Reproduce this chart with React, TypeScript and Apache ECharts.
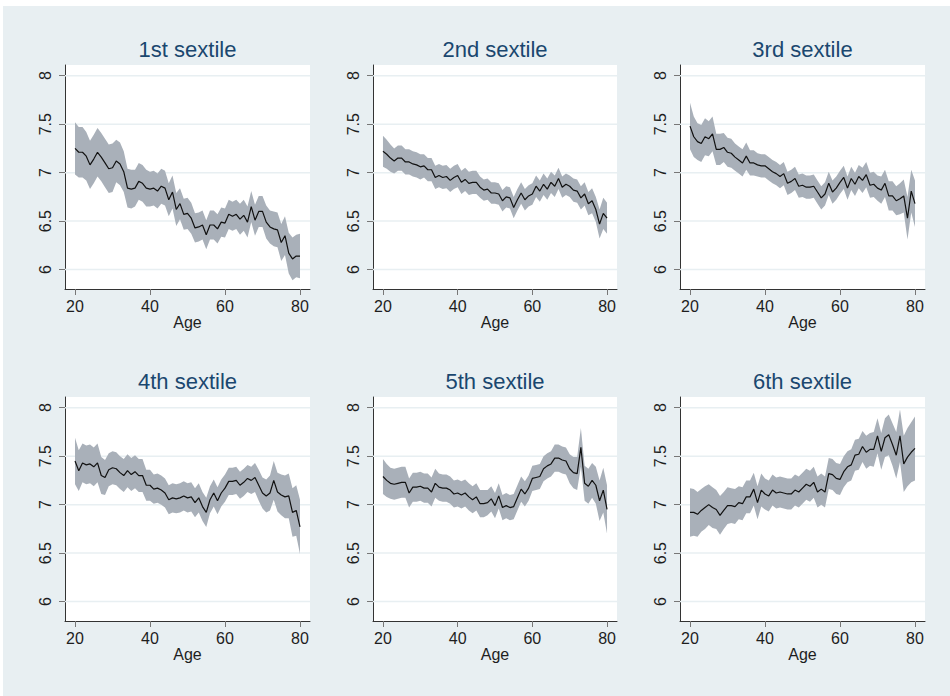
import React, { useEffect, useRef } from 'react';
import * as echarts from 'echarts';

const AGES = [20,21,22,23,24,25,26,27,28,29,30,31,32,33,34,35,36,37,38,39,40,41,42,43,44,45,46,47,48,49,50,51,52,53,54,55,56,57,58,59,60,61,62,63,64,65,66,67,68,69,70,71,72,73,74,75,76,77,78,79,80];
const X_TICKS = [20, 40, 60, 80];
const Y_TICKS = [6, 6.5, 7, 7.5, 8];
const PANEL_TITLES = ['1st sextile', '2nd sextile', '3rd sextile', '4th sextile', '5th sextile', '6th sextile'];

const MEAN_1 = [7.25,7.21,7.21,7.17,7.08,7.14,7.21,7.16,7.10,7.04,
  7.05,7.12,7.09,7.01,6.84,6.83,6.84,6.91,6.89,6.84,
  6.83,6.84,6.81,6.86,6.84,6.72,6.80,6.62,6.68,6.57,
  6.58,6.53,6.43,6.44,6.46,6.36,6.46,6.46,6.42,6.49,
  6.48,6.57,6.55,6.57,6.52,6.56,6.49,6.65,6.51,6.60,
  6.60,6.49,6.44,6.42,6.41,6.28,6.35,6.17,6.11,6.14,
  6.14];
const HW_1 = [0.27,0.26,0.26,0.25,0.25,0.25,0.25,0.25,0.25,0.25,
  0.25,0.22,0.22,0.21,0.2,0.2,0.19,0.19,0.19,0.19,
  0.18,0.18,0.18,0.18,0.18,0.17,0.17,0.17,0.16,0.16,
  0.16,0.16,0.15,0.15,0.15,0.15,0.15,0.15,0.15,0.15,
  0.15,0.15,0.15,0.15,0.16,0.16,0.16,0.16,0.16,0.16,
  0.16,0.17,0.17,0.18,0.18,0.19,0.2,0.21,0.22,0.22,
  0.23];

const MEAN_2 = [7.22,7.19,7.15,7.12,7.15,7.15,7.11,7.11,7.09,7.08,
  7.06,7.07,7.03,7.03,6.95,6.97,6.95,6.96,6.92,6.95,
  6.97,6.90,6.93,6.89,6.90,6.90,6.85,6.82,6.83,6.79,
  6.79,6.78,6.71,6.75,6.74,6.64,6.72,6.79,6.72,6.76,
  6.78,6.86,6.81,6.88,6.83,6.90,6.86,6.94,6.85,6.88,
  6.86,6.82,6.81,6.74,6.78,6.68,6.71,6.62,6.47,6.58,
  6.53];
const HW_2 = [0.16,0.15,0.14,0.13,0.13,0.13,0.13,0.13,0.13,0.13,
  0.13,0.12,0.12,0.12,0.12,0.12,0.12,0.12,0.12,0.12,
  0.12,0.12,0.12,0.12,0.12,0.12,0.11,0.11,0.11,0.11,
  0.11,0.11,0.11,0.11,0.11,0.11,0.11,0.11,0.11,0.11,
  0.11,0.11,0.11,0.11,0.11,0.11,0.11,0.11,0.11,0.11,
  0.11,0.12,0.12,0.12,0.12,0.12,0.13,0.13,0.15,0.16,
  0.16];

const MEAN_3 = [7.48,7.37,7.32,7.30,7.37,7.35,7.40,7.24,7.24,7.26,
  7.21,7.20,7.16,7.13,7.10,7.17,7.10,7.10,7.08,7.07,
  7.07,7.04,7.01,6.99,6.96,6.99,6.89,6.91,6.94,6.86,
  6.87,6.85,6.85,6.86,6.80,6.74,6.78,6.89,6.80,6.84,
  6.90,6.95,6.84,6.94,6.88,6.96,6.92,6.98,6.87,6.88,
  6.84,6.82,6.89,6.76,6.76,6.71,6.73,6.76,6.53,6.81,
  6.68];
const HW_3 = [0.24,0.21,0.19,0.19,0.19,0.18,0.18,0.16,0.16,0.15,
  0.15,0.15,0.14,0.14,0.14,0.14,0.13,0.13,0.12,0.12,
  0.12,0.12,0.12,0.12,0.12,0.12,0.12,0.12,0.12,0.12,
  0.12,0.12,0.12,0.12,0.12,0.12,0.12,0.12,0.12,0.12,
  0.12,0.12,0.12,0.12,0.12,0.12,0.13,0.13,0.13,0.13,
  0.13,0.14,0.14,0.15,0.15,0.15,0.16,0.17,0.22,0.22,
  0.24];

const MEAN_4 = [7.45,7.35,7.43,7.41,7.42,7.39,7.43,7.30,7.28,7.36,
  7.38,7.37,7.33,7.30,7.35,7.31,7.34,7.30,7.30,7.20,
  7.20,7.16,7.17,7.15,7.12,7.05,7.07,7.06,7.07,7.09,
  7.07,7.08,7.02,7.07,6.98,6.92,7.05,7.12,7.04,7.12,
  7.17,7.24,7.24,7.25,7.20,7.23,7.27,7.25,7.28,7.20,
  7.12,7.09,7.12,7.25,7.13,7.10,7.08,7.09,6.92,6.94,
  6.77];
const HW_4 = [0.24,0.21,0.2,0.2,0.2,0.2,0.2,0.19,0.18,0.17,
  0.17,0.17,0.17,0.17,0.17,0.17,0.17,0.17,0.17,0.16,
  0.16,0.15,0.15,0.15,0.15,0.15,0.15,0.15,0.15,0.15,
  0.15,0.15,0.15,0.15,0.15,0.15,0.14,0.14,0.14,0.14,
  0.14,0.14,0.14,0.14,0.14,0.14,0.14,0.14,0.15,0.16,
  0.16,0.17,0.18,0.2,0.2,0.21,0.22,0.23,0.25,0.26,
  0.28];

const MEAN_5 = [7.29,7.25,7.22,7.21,7.22,7.23,7.23,7.12,7.18,7.18,
  7.19,7.17,7.17,7.13,7.22,7.18,7.17,7.17,7.15,7.11,
  7.12,7.10,7.12,7.08,7.05,7.08,7.01,7.01,7.02,7.06,
  6.99,7.09,6.97,6.99,6.97,6.98,7.07,7.16,7.11,7.17,
  7.27,7.28,7.29,7.37,7.40,7.42,7.48,7.48,7.46,7.45,
  7.37,7.33,7.32,7.59,7.22,7.19,7.25,7.20,7.04,7.15,
  6.95];
const HW_5 = [0.18,0.17,0.16,0.16,0.16,0.16,0.16,0.15,0.15,0.15,
  0.15,0.15,0.15,0.15,0.15,0.14,0.14,0.14,0.14,0.14,
  0.14,0.14,0.14,0.14,0.14,0.14,0.14,0.14,0.13,0.13,
  0.13,0.13,0.13,0.13,0.13,0.13,0.13,0.13,0.13,0.13,
  0.13,0.13,0.13,0.13,0.13,0.13,0.14,0.14,0.14,0.14,
  0.15,0.16,0.17,0.2,0.18,0.18,0.18,0.19,0.21,0.23,
  0.25];

const MEAN_6 = [6.92,6.92,6.90,6.94,6.97,7.00,6.97,6.95,6.89,6.94,
  6.99,6.99,6.98,7.02,7.01,7.08,7.08,7.16,7.02,7.15,
  7.11,7.09,7.15,7.12,7.13,7.12,7.11,7.11,7.15,7.13,
  7.17,7.21,7.19,7.23,7.13,7.16,7.13,7.32,7.31,7.27,
  7.26,7.34,7.39,7.41,7.51,7.52,7.60,7.54,7.57,7.57,
  7.71,7.55,7.69,7.72,7.62,7.51,7.71,7.42,7.49,7.54,
  7.58];
const HW_6 = [0.25,0.24,0.23,0.22,0.22,0.21,0.21,0.2,0.2,0.19,
  0.19,0.18,0.18,0.17,0.17,0.17,0.17,0.17,0.17,0.17,
  0.16,0.16,0.16,0.16,0.16,0.16,0.16,0.16,0.16,0.16,
  0.16,0.16,0.16,0.16,0.16,0.16,0.16,0.16,0.16,0.16,
  0.16,0.16,0.16,0.16,0.16,0.16,0.16,0.17,0.17,0.18,
  0.18,0.19,0.2,0.21,0.22,0.24,0.27,0.29,0.3,0.31,
  0.33];

const MEANS = [MEAN_1, MEAN_2, MEAN_3, MEAN_4, MEAN_5, MEAN_6];
const HALF_WIDTHS = [HW_1, HW_2, HW_3, HW_4, HW_5, HW_6];

const FONT = "'Liberation Sans', Arial, Helvetica, sans-serif";
const BG = '#e8eff2';
const GRIDLINE = '#e8eff2';
const BAND = '#a9b0b9';
const TITLE_COLOR = '#1a476f';
const TEXT = '#1e1e1e';

const COL_LEFT = [65, 373, 680];
const COL_WIDTH = [245, 244, 245];
const ROW_TOP = [65, 397];
const PLOT_H = 224;
const TITLE_Y = [49, 381];

export default function App() {
  const ref = useRef<HTMLDivElement>(null);

  useEffect(() => {
    document.body.style.margin = '0';
    const el = ref.current;
    if (!el) return;
    const chart = echarts.init(el, null, { renderer: 'svg' });

    const grids: any[] = [];
    const xAxes: any[] = [];
    const yAxes: any[] = [];
    const series: any[] = [];
    const graphics: any[] = [
      { type: 'rect', shape: { x: 3, y: 6, width: 947, height: 690 }, style: { fill: BG }, z: -100, silent: true },
    ];

    for (let i = 0; i < 6; i++) {
      const row = Math.floor(i / 3);
      const col = i % 3;
      const mean = MEANS[i];
      const hw = HALF_WIDTHS[i];
      grids.push({
        left: COL_LEFT[col], top: ROW_TOP[row], width: COL_WIDTH[col], height: PLOT_H,
        show: true, backgroundColor: '#ffffff', borderWidth: 0,
      });
      xAxes.push({
        gridIndex: i, type: 'value', min: 17.33, max: 82.67,
        name: 'Age', nameLocation: 'middle', nameGap: 25,
        nameTextStyle: { fontSize: 16, color: TEXT, fontFamily: FONT },
        axisLine: { show: true, onZero: false, lineStyle: { color: '#333', width: 1 } },
        axisTick: { show: true, inside: false, length: 6, customValues: X_TICKS, lineStyle: { color: '#777', width: 1 } },
        axisLabel: { show: true, customValues: X_TICKS, fontSize: 16, color: TEXT, fontFamily: FONT, margin: 9 },
        splitLine: { show: false },
      });
      yAxes.push({
        gridIndex: i, type: 'value', min: 5.8, max: 8.11,
        axisLine: { show: true, onZero: false, lineStyle: { color: '#333', width: 1 } },
        axisTick: { show: true, inside: false, length: 6, customValues: Y_TICKS, lineStyle: { color: '#777', width: 1 } },
        axisLabel: { show: true, customValues: Y_TICKS, rotate: 90, fontSize: 16, color: TEXT, fontFamily: FONT, margin: 12 },
        splitLine: { show: false },
      });
      series.push({
        type: 'custom', xAxisIndex: i, yAxisIndex: i, silent: true, z: 1,
        data: AGES.map((a, k) => [a, mean[k] - hw[k], mean[k] + hw[k]]),
        encode: { x: 0, y: [1, 2] },
        renderItem: (params: any, api: any) => {
          if (params.dataIndex !== 0) return null;
          const cs = params.coordSys;
          const children: any[] = [];
          Y_TICKS.forEach((v) => {
            const p = api.coord([17.33, v]);
            children.push({
              type: 'line',
              shape: { x1: cs.x, y1: p[1], x2: cs.x + cs.width, y2: p[1] },
              style: { stroke: GRIDLINE, lineWidth: 1.5 },
            });
          });
          const pts: number[][] = [];
          for (let k = 0; k < AGES.length; k++) pts.push(api.coord([AGES[k], mean[k] + hw[k]]));
          for (let k = AGES.length - 1; k >= 0; k--) pts.push(api.coord([AGES[k], mean[k] - hw[k]]));
          children.push({ type: 'polygon', shape: { points: pts }, style: { fill: BAND } });
          return { type: 'group', children };
        },
      });
      series.push({
        type: 'line', xAxisIndex: i, yAxisIndex: i, z: 3,
        data: AGES.map((a, k) => [a, mean[k]]),
        showSymbol: false, symbol: 'none', silent: true,
        lineStyle: { color: '#111', width: 1.2 },
      });
      graphics.push({
        type: 'text', x: COL_LEFT[col] + COL_WIDTH[col] / 2, y: TITLE_Y[row], silent: true,
        style: { text: PANEL_TITLES[i], fontSize: 22, fill: TITLE_COLOR, fontFamily: FONT, align: 'center', verticalAlign: 'middle' },
      });
    }

    chart.setOption({
      animation: false,
      backgroundColor: '#ffffff',
      grid: grids,
      xAxis: xAxes,
      yAxis: yAxes,
      series,
      graphic: graphics,
    });

    return () => chart.dispose();
  }, []);

  return <div ref={ref} style={{ width: 950, height: 696 }} />;
}
